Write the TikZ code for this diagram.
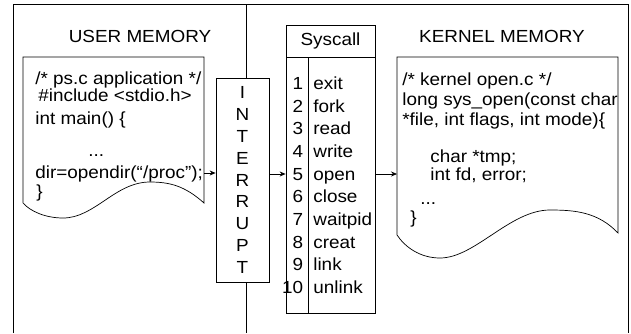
\documentclass[tikz,border=0pt]{standalone}
\usepackage{fontspec}
\setmainfont{Liberation Sans}[FakeStretch=1.08]
\usetikzlibrary{arrows.meta,positioning}

\begin{document}
\begin{tikzpicture}[
  x=1pt, y=-1pt, line width=0.7pt,
  txt/.style={inner sep=0pt, font=\fontsize{17.5}{20}\selectfont},
  codeline/.style={txt, anchor=base west},
  title/.style={txt, anchor=base},
  tablebox/.style={draw, fill=white, inner sep=0pt},
  arrow/.style={-{Stealth[length=6pt,width=5pt]}}
]
\useasboundingbox (0,0) rectangle (631,333);

% memory frame, open at the bottom
\draw (13,333) -- (13,4) -- (628,4) -- (628,333);
\draw (246,4) -- (246,333);

\node[title] (usermem) at (140,42) {USER MEMORY};
\node[title] (kernmem) at (502,42) {KERNEL MEMORY};

% user program sheet
\draw (23,203) -- (23,57) -- (204,57) -- (204,203)
  .. controls (185,186) and (170,182) .. (150,182)
  .. controls (115,182) and (95,218) .. (63,218)
  .. controls (45,218) and (30,211) .. (23,203);
\node[codeline] (u1) at (35,84) {/* ps.c application */};
\node[codeline] (u2) at (38,101) {\#include <stdio.h>};
\node[codeline] (u3) at (35,124) {int main() \{};
\node[codeline] (u4) at (88,156) {...};
\node[codeline] (u5) at (35,178) {dir=opendir(“/proc”);};
\node[codeline] (u6) at (36,197) {\}};
\coordinate (uout) at (204,173);

% kernel sheet
\draw (397,235) -- (397,57) -- (618,57) -- (618,233)
  .. controls (598,212) and (575,210) .. (550,210)
  .. controls (510,210) and (475,258) .. (440,258)
  .. controls (420,258) and (405,247) .. (397,235);
\node[codeline] (k1) at (402,85) {/* kernel open.c */};
\node[codeline] (k2) at (402,105) {long sys\_open(const char};
\node[codeline] (k3) at (402,125) {*file, int flags, int mode)\{};
\node[codeline] (k4) at (430,162) {char *tmp;};
\node[codeline] (k5) at (430,180) {int fd, error;};
\node[codeline] (k6) at (420,204) {...};
\node[codeline] (k7) at (410,223) {\}};
\coordinate (kin) at (397,174);

% interrupt gate
\node[tablebox, minimum width=53, minimum height=204, align=center,
      txt, font=\fontsize{17.5}{21.9}\selectfont] (intr) at (242.5,180)
  {I\\N\\T\\E\\R\\R\\U\\P\\T};

% syscall table
\node[tablebox, minimum width=89, minimum height=32, txt] (schead) at (330.5,41) {Syscall};
\node[tablebox, minimum width=89, minimum height=256, below=0pt of schead] (scbody) {};
\draw (308,57) -- (308,313);
\foreach \n/\call [count=\i from 0] in {1/exit,2/fork,3/read,4/write,5/open,
    6/close,7/waitpid,8/creat,9/link,10/unlink}{
  \node[txt, anchor=base east] (num\n) at (303.5,89.5+22.67*\i) {\n};
  \node[txt, anchor=base west] (call\n) at (313,89.5+22.67*\i) {\call};
}
\coordinate (row5) at (330,174);

\draw[arrow] (uout) -- (intr.west |- uout);
\draw[arrow] (intr.east |- row5) -- (scbody.west |- row5);
\draw[arrow] (scbody.east |- row5) -- (kin);
\end{tikzpicture}
\end{document}
